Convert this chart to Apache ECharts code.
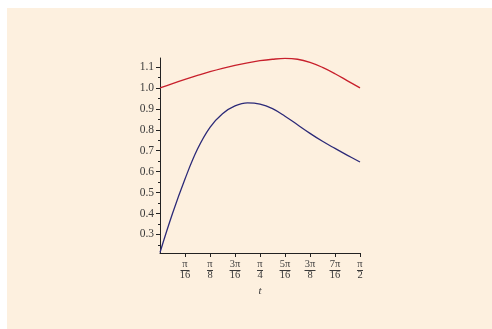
<!DOCTYPE html>
<html>
<head>
<meta charset="utf-8">
<script src="https://cdn.jsdelivr.net/npm/echarts@6/dist/echarts.min.js"></script>
<style>
  html, body { margin: 0; padding: 0; background: #ffffff; }
  #chart { width: 492px; height: 329px; }
</style>
</head>
<body>
<div id="chart"></div>
<script>
// Sample positions, in steps of pi/32 from 0 to pi/2
const tSteps = [0, 1, 2, 3, 4, 5, 6, 7, 8, 9, 10, 11, 12, 13, 14, 15, 16];
// Upper (red) curve
const redValues = [1.000, 1.021, 1.041, 1.060, 1.078, 1.094, 1.108, 1.120, 1.130,
                   1.137, 1.141, 1.137, 1.122, 1.098, 1.068, 1.034, 1.000];
// Lower (blue) curve
const blueValues = [0.214, 0.400, 0.565, 0.708, 0.812, 0.877, 0.914, 0.929, 0.923,
                    0.901, 0.865, 0.824, 0.783, 0.745, 0.711, 0.678, 0.646];
// x tick labels as fractions of pi
const xTickSixteenths = [1, 2, 3, 4, 5, 6, 7, 8];
const xTickNumerators = ['π', 'π', '3π', 'π', '5π', '3π', '7π', 'π'];
const xTickDenominators = ['16', '8', '16', '4', '16', '8', '16', '2'];
// y tick labels
const yMajorTicks = [0.3, 0.4, 0.5, 0.6, 0.7, 0.8, 0.9, 1.0, 1.1];
const yMinorTicks = [0.25, 0.35, 0.45, 0.55, 0.65, 0.75, 0.85, 0.95, 1.05];

const STEP = Math.PI / 32;
const xTickValues = xTickSixteenths.map(k => k * Math.PI / 16);
const redData = tSteps.map((k, i) => [k * STEP, redValues[i]]);
const blueData = tSteps.map((k, i) => [k * STEP, blueValues[i]]);

const FONT = 'Liberation Serif';
const TEXT = '#3a3a3a';
const Y_MIN = 0.2115, Y_MAX = 1.143;

function tickIndex(v) {
  for (let i = 0; i < xTickValues.length; i++) {
    if (Math.abs(xTickValues[i] - v) < 1e-6) return i;
  }
  return -1;
}

// Numerator over denominator; the fraction rule is drawn by the custom series below
function fracLabel(v) {
  const idx = tickIndex(v);
  if (idx < 0) return '';
  return '{n|' + xTickNumerators[idx] + '}\n{d|' + xTickDenominators[idx] + '}';
}

// Half-width of the fraction rule, from the longer of numerator/denominator
function ruleHalfWidth(idx) {
  const num = xTickNumerators[idx], den = xTickDenominators[idx];
  if (num.length > 1) return 5.5;
  if (den.length > 1) return 4.5;
  return 3;
}

const rich = {
  n: { fontFamily: FONT, fontSize: 10.5, lineHeight: 11, color: TEXT, align: 'center' },
  d: { fontFamily: FONT, fontSize: 10.5, lineHeight: 11, color: TEXT, align: 'center' }
};

const chart = echarts.init(document.getElementById('chart'), null, { renderer: 'canvas' });
chart.setOption({
  backgroundColor: '#ffffff',
  animation: false,
  graphic: [{
    type: 'rect', z: -10, silent: true,
    shape: { x: 7, y: 8, width: 485, height: 321 },
    style: { fill: '#fdf0df' }
  }],
  grid: { left: 160, right: 132, top: 58, bottom: 76, containLabel: false },
  xAxis: {
    type: 'value', min: 0, max: Math.PI / 2,
    name: 't', nameLocation: 'middle', nameGap: 33,
    nameTextStyle: { fontFamily: FONT, fontStyle: 'italic', fontSize: 11, color: TEXT },
    axisLine: { show: true, lineStyle: { color: '#222', width: 1 } },
    axisTick: { show: true, length: 4, inside: false, customValues: xTickValues, lineStyle: { color: '#222' } },
    axisLabel: { show: true, margin: 6, customValues: xTickValues, formatter: fracLabel, rich: rich },
    splitLine: { show: false }
  },
  yAxis: [{
    type: 'value', min: Y_MIN, max: Y_MAX,
    axisLine: { show: true, onZero: false, lineStyle: { color: '#222', width: 1 } },
    axisTick: { show: true, length: 4, customValues: yMajorTicks, lineStyle: { color: '#222' } },
    axisLabel: {
      show: true, margin: 6, customValues: yMajorTicks,
      formatter: v => v.toFixed(1),
      fontFamily: FONT, fontSize: 11.5, color: TEXT
    },
    splitLine: { show: false }
  }, {
    type: 'value', min: Y_MIN, max: Y_MAX, position: 'left', offset: 0,
    axisLine: { show: false },
    axisTick: { show: true, length: 2, customValues: yMinorTicks, lineStyle: { color: '#222' } },
    axisLabel: { show: false },
    splitLine: { show: false }
  }],
  series: [{
    type: 'line', data: redData, smooth: 0.4, symbol: 'none', yAxisIndex: 0,
    lineStyle: { color: '#c8202c', width: 1.3 }
  }, {
    type: 'line', data: blueData, smooth: 0.4, symbol: 'none', yAxisIndex: 0,
    lineStyle: { color: '#2c2a78', width: 1.3 }
  }, {
    // fraction rules under the x tick numerators
    type: 'custom', silent: true, clip: false, z: 5,
    xAxisIndex: 0, yAxisIndex: 0,
    data: xTickValues.map(v => [v]),
    renderItem: function (params, api) {
      const p = api.coord([api.value(0), Y_MIN]);
      const hw = ruleHalfWidth(params.dataIndex);
      const y = Math.round(p[1]) + 17.5;
      return {
        type: 'line',
        shape: { x1: p[0] - hw, y1: y, x2: p[0] + hw, y2: y },
        style: { stroke: TEXT, lineWidth: 1 }
      };
    }
  }]
});
</script>
</body>
</html>
